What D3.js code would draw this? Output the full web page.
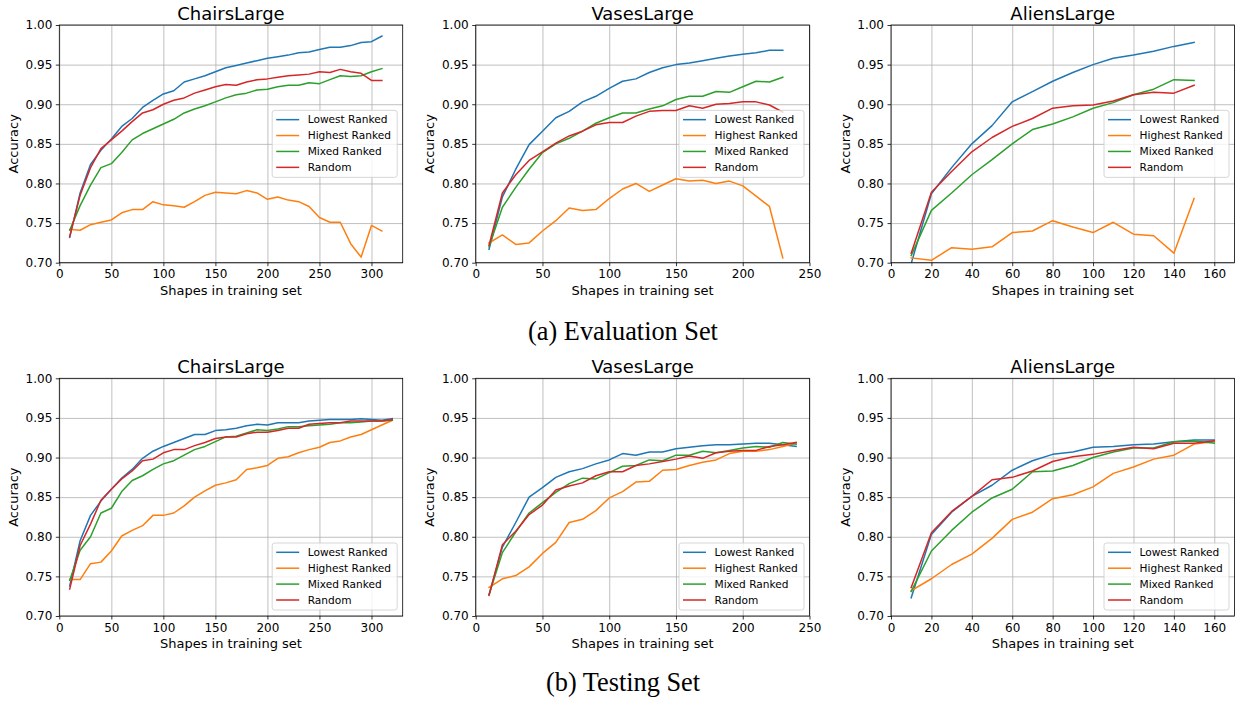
<!DOCTYPE html>
<html>
<head>
<meta charset="utf-8">
<script src="https://cdn.jsdelivr.net/npm/d3@7"></script>
<style>
  body { margin: 0; background: #fff; }
  svg { display: block; }
  text { font-family: "DejaVu Sans", sans-serif; fill: #000; }
</style>
</head>
<body>
<svg id="fig" width="1240" height="702"></svg>
<script>
// series names + colours (matplotlib tab10)
let seriesNames = ["Lowest Ranked", "Highest Ranked", "Mixed Ranked", "Random"];
let seriesColors = ["#1f77b4", "#ff7f0e", "#2ca02c", "#d62728"];
let yTicks = [0.70, 0.75, 0.80, 0.85, 0.90, 0.95, 1.00];

// ---- (a) Evaluation set ----
let evalChairsShapes = [10,20,30,40,50,60,70,80,90,100,110,120,130,140,150,160,170,180,190,200,210,220,230,240,250,260,270,280,290,300,310];
let evalChairsLowest  = [0.732,0.788,0.824,0.842,0.856,0.872,0.882,0.896,0.905,0.913,0.917,0.928,0.932,0.936,0.941,0.946,0.949,0.952,0.955,0.958,0.960,0.962,0.965,0.966,0.969,0.972,0.972,0.974,0.978,0.979,0.986];
let evalChairsHighest = [0.742,0.741,0.748,0.751,0.754,0.763,0.767,0.767,0.777,0.773,0.772,0.770,0.777,0.785,0.789,0.788,0.787,0.791,0.788,0.780,0.783,0.779,0.777,0.771,0.757,0.751,0.751,0.724,0.707,0.747,0.740];
let evalChairsMixed   = [0.741,0.772,0.798,0.820,0.825,0.839,0.855,0.863,0.869,0.875,0.881,0.889,0.894,0.898,0.903,0.908,0.912,0.914,0.918,0.919,0.922,0.924,0.924,0.927,0.926,0.931,0.936,0.935,0.936,0.941,0.945];
let evalChairsRandom  = [0.733,0.785,0.820,0.844,0.855,0.866,0.878,0.889,0.893,0.900,0.905,0.908,0.914,0.918,0.922,0.925,0.924,0.928,0.931,0.932,0.934,0.936,0.937,0.938,0.941,0.940,0.944,0.941,0.939,0.930,0.930];

let evalVasesShapes = [10,20,30,40,50,60,70,80,90,100,110,120,130,140,150,160,170,180,190,200,210,220,230];
let evalVasesLowest  = [0.717,0.783,0.818,0.849,0.866,0.883,0.891,0.903,0.910,0.920,0.929,0.932,0.940,0.946,0.950,0.952,0.955,0.958,0.961,0.963,0.965,0.968,0.968];
let evalVasesHighest = [0.725,0.735,0.723,0.725,0.740,0.753,0.769,0.766,0.767,0.781,0.793,0.800,0.790,0.798,0.806,0.803,0.804,0.800,0.803,0.797,0.784,0.771,0.706];
let evalVasesMixed   = [0.720,0.770,0.795,0.818,0.839,0.850,0.857,0.866,0.876,0.883,0.889,0.889,0.894,0.898,0.906,0.910,0.910,0.916,0.915,0.922,0.929,0.928,0.934];
let evalVasesRandom  = [0.722,0.788,0.811,0.829,0.840,0.851,0.860,0.866,0.874,0.877,0.877,0.885,0.891,0.892,0.892,0.898,0.895,0.900,0.901,0.903,0.903,0.899,0.890];

let evalAliensShapes = [10,20,30,40,50,60,70,80,90,100,110,120,130,140,150];
let evalAliensLowest  = [0.699,0.787,0.820,0.850,0.873,0.903,0.916,0.929,0.940,0.950,0.958,0.962,0.967,0.973,0.978];
let evalAliensHighest = [0.706,0.703,0.719,0.717,0.720,0.738,0.740,0.753,0.745,0.738,0.751,0.736,0.734,0.712,0.781];
let evalAliensMixed   = [0.709,0.766,0.788,0.811,0.830,0.850,0.868,0.875,0.884,0.895,0.902,0.912,0.919,0.931,0.930];
let evalAliensRandom  = [0.712,0.789,0.815,0.840,0.858,0.872,0.882,0.895,0.898,0.899,0.904,0.912,0.915,0.914,0.924];

// ---- (b) Testing set ----
let testChairsShapes = [10,20,30,40,50,60,70,80,90,100,110,120,130,140,150,160,170,180,190,200,210,220,230,240,250,260,270,280,290,300,310,320];
let testChairsLowest  = [0.738,0.795,0.827,0.845,0.860,0.874,0.885,0.899,0.908,0.914,0.919,0.924,0.929,0.929,0.934,0.935,0.937,0.940,0.942,0.941,0.944,0.944,0.944,0.946,0.947,0.948,0.948,0.948,0.949,0.948,0.947,0.949];
let testChairsHighest = [0.746,0.746,0.766,0.768,0.782,0.801,0.808,0.814,0.827,0.827,0.830,0.839,0.850,0.858,0.865,0.868,0.872,0.885,0.887,0.890,0.899,0.901,0.906,0.910,0.913,0.919,0.921,0.926,0.929,0.935,0.941,0.947];
let testChairsMixed   = [0.745,0.783,0.800,0.830,0.836,0.857,0.871,0.877,0.885,0.892,0.896,0.903,0.910,0.914,0.920,0.926,0.927,0.931,0.935,0.934,0.936,0.939,0.939,0.940,0.941,0.942,0.944,0.944,0.945,0.946,0.946,0.947];
let testChairsRandom  = [0.734,0.789,0.816,0.846,0.860,0.873,0.883,0.896,0.898,0.906,0.910,0.910,0.915,0.919,0.924,0.926,0.926,0.930,0.932,0.932,0.934,0.937,0.937,0.942,0.943,0.944,0.944,0.946,0.946,0.946,0.946,0.948];

let testVasesShapes = [10,20,30,40,50,60,70,80,90,100,110,120,130,140,150,160,170,180,190,200,210,220,230,240];
let testVasesLowest  = [0.727,0.787,0.818,0.850,0.862,0.875,0.882,0.886,0.892,0.897,0.905,0.903,0.907,0.907,0.911,0.913,0.915,0.916,0.916,0.917,0.918,0.918,0.916,0.914];
let testVasesHighest = [0.736,0.747,0.751,0.762,0.779,0.793,0.818,0.822,0.833,0.849,0.857,0.869,0.870,0.884,0.885,0.890,0.894,0.897,0.905,0.908,0.908,0.910,0.914,0.918];
let testVasesMixed   = [0.727,0.780,0.806,0.830,0.843,0.856,0.867,0.874,0.873,0.881,0.889,0.890,0.897,0.896,0.903,0.903,0.908,0.906,0.909,0.912,0.914,0.913,0.919,0.917];
let testVasesRandom  = [0.726,0.790,0.807,0.828,0.840,0.859,0.864,0.868,0.877,0.882,0.882,0.890,0.892,0.895,0.898,0.902,0.899,0.906,0.908,0.909,0.909,0.914,0.916,0.919];

let testAliensShapes = [10,20,30,40,50,60,70,80,90,100,110,120,130,140,150,160];
let testAliensLowest  = [0.723,0.803,0.831,0.851,0.865,0.884,0.896,0.904,0.907,0.913,0.914,0.916,0.917,0.920,0.922,0.922];
let testAliensHighest = [0.732,0.747,0.765,0.778,0.798,0.822,0.831,0.848,0.853,0.863,0.880,0.888,0.898,0.903,0.917,0.920];
let testAliensMixed   = [0.731,0.782,0.808,0.831,0.849,0.860,0.882,0.883,0.890,0.900,0.907,0.912,0.912,0.920,0.921,0.918];
let testAliensRandom  = [0.736,0.805,0.832,0.851,0.872,0.875,0.883,0.895,0.901,0.904,0.909,0.913,0.911,0.918,0.918,0.921];

let chairsTicks = [0, 50, 100, 150, 200, 250, 300];
let vasesTicks = [0, 50, 100, 150, 200, 250];
let aliensTicks = [0, 20, 40, 60, 80, 100, 120, 140, 160];

// panel boxes in page pixels
let panels = [
    {title: "ChairsLarge", x: evalChairsShapes, ys: [evalChairsLowest, evalChairsHighest, evalChairsMixed, evalChairsRandom],
     xMax: 330, ticks: chairsTicks, left: 59.3, right: 402.7, top: 25, bottom: 262.7, legend: "center"},
    {title: "VasesLarge", x: evalVasesShapes, ys: [evalVasesLowest, evalVasesHighest, evalVasesMixed, evalVasesRandom],
     xMax: 250, ticks: vasesTicks, left: 475.7, right: 809.5, top: 25, bottom: 262.7, legend: "center"},
    {title: "AliensLarge", x: evalAliensShapes, ys: [evalAliensLowest, evalAliensHighest, evalAliensMixed, evalAliensRandom],
     xMax: 170, ticks: aliensTicks, left: 891, right: 1234.5, top: 25, bottom: 262.7, legend: "center"},
    {title: "ChairsLarge", x: testChairsShapes, ys: [testChairsLowest, testChairsHighest, testChairsMixed, testChairsRandom],
     xMax: 330, ticks: chairsTicks, left: 59.3, right: 402.7, top: 378.3, bottom: 616, legend: "lower"},
    {title: "VasesLarge", x: testVasesShapes, ys: [testVasesLowest, testVasesHighest, testVasesMixed, testVasesRandom],
     xMax: 250, ticks: vasesTicks, left: 475.7, right: 809.5, top: 378.3, bottom: 616, legend: "lower"},
    {title: "AliensLarge", x: testAliensShapes, ys: [testAliensLowest, testAliensHighest, testAliensMixed, testAliensRandom],
     xMax: 170, ticks: aliensTicks, left: 891, right: 1234.5, top: 378.3, bottom: 616, legend: "lower"}
];

let svg = d3.select("#fig");

panels.forEach(function(p, i){
    let width = p.right - p.left,
        height = p.bottom - p.top;

    let x = d3.scaleLinear().domain([0, p.xMax]).range([0, width]);
    let y = d3.scaleLinear().domain([0.70, 1.00]).range([height, 0]);

    let g = svg.append("g")
        .attr("transform", "translate(" + p.left + "," + p.top + ")");

    g.append("clipPath").attr("id", "clip" + i)
        .append("rect").attr("width", width).attr("height", height);

    // grid
    g.append("g")
        .attr("transform", "translate(0," + height + ")")
        .call(d3.axisBottom(x).tickValues(p.ticks).tickSize(-height).tickFormat(""))
        .call(a => a.select(".domain").remove())
        .selectAll("line").attr("stroke", "#b0b0b0").attr("stroke-width", 0.8);
    g.append("g")
        .call(d3.axisLeft(y).tickValues(yTicks).tickSize(-width).tickFormat(""))
        .call(a => a.select(".domain").remove())
        .selectAll("line").attr("stroke", "#b0b0b0").attr("stroke-width", 0.8);

    let line = d3.line()
        .x((d, j) => x(p.x[j]))
        .y(d => y(d));

    g.append("g").attr("clip-path", "url(#clip" + i + ")")
        .selectAll("path")
        .data(p.ys)
        .join("path")
        .attr("d", d => line(d))
        .attr("fill", "none")
        .attr("stroke", (d, j) => seriesColors[j])
        .attr("stroke-width", 1.5)
        .attr("stroke-linejoin", "round")
        .attr("stroke-linecap", "square");

    // axes
    let xAxis = g.append("g")
        .attr("transform", "translate(0," + height + ")")
        .call(d3.axisBottom(x).tickValues(p.ticks).tickSize(3.5).tickPadding(3.5).tickFormat(d3.format("d")));
    let yAxis = g.append("g")
        .call(d3.axisLeft(y).tickValues(yTicks).tickSize(3.5).tickPadding(3.5).tickFormat(d3.format(".2f")));
    [xAxis, yAxis].forEach(function(a){
        a.select(".domain").remove();
        a.selectAll("line").attr("stroke", "#000").attr("stroke-width", 0.8);
        a.selectAll("text")
            .style("font-family", "'DejaVu Sans', sans-serif")
            .style("font-size", "12px")
            .attr("fill", "#000");
    });

    g.append("rect")
        .attr("width", width).attr("height", height)
        .attr("fill", "none").attr("stroke", "#000").attr("stroke-width", 0.8);

    g.append("text")
        .attr("x", width / 2)
        .attr("y", -5.5)
        .attr("text-anchor", "middle")
        .style("font-size", "18px")
        .text(p.title);

    g.append("text")
        .attr("x", width / 2)
        .attr("y", height + 32)
        .attr("text-anchor", "middle")
        .style("font-size", "13px")
        .text("Shapes in training set");

    g.append("text")
        .attr("transform", "translate(-41.5," + (height / 2) + ") rotate(-90)")
        .attr("text-anchor", "middle")
        .style("font-size", "13px")
        .text("Accuracy");

    // legend
    let boxW = 125, boxH = 67;
    let lx = width - 5.5 - boxW;
    let ly = p.legend === "center" ? height / 2 - boxH / 2 : height - 6 - boxH;
    let leg = g.append("g").attr("transform", "translate(" + lx + "," + ly + ")");
    leg.append("rect")
        .attr("width", boxW).attr("height", boxH)
        .attr("rx", 2.5)
        .attr("fill", "#fff").attr("fill-opacity", 0.8)
        .attr("stroke", "#cccccc").attr("stroke-width", 0.8);
    let items = leg.selectAll("g.item")
        .data(seriesNames)
        .join("g")
        .attr("class", "item")
        .attr("transform", (d, j) => "translate(0," + (9.3 + j * 15.9) + ")");
    items.append("line")
        .attr("x1", 4).attr("x2", 27)
        .attr("stroke", (d, j) => seriesColors[j])
        .attr("stroke-width", 1.5);
    items.append("text")
        .attr("x", 35.5)
        .attr("dy", "0.35em")
        .style("font-size", "10.6px")
        .text(d => d);
});

// sub-figure captions
svg.append("text")
    .attr("x", 623).attr("y", 339.5)
    .attr("text-anchor", "middle")
    .style("font-family", "'Liberation Serif', serif")
    .style("font-size", "26.3px")
    .text("(a) Evaluation Set");
svg.append("text")
    .attr("x", 623).attr("y", 691)
    .attr("text-anchor", "middle")
    .style("font-family", "'Liberation Serif', serif")
    .style("font-size", "26.3px")
    .text("(b) Testing Set");
</script>
</body>
</html>
